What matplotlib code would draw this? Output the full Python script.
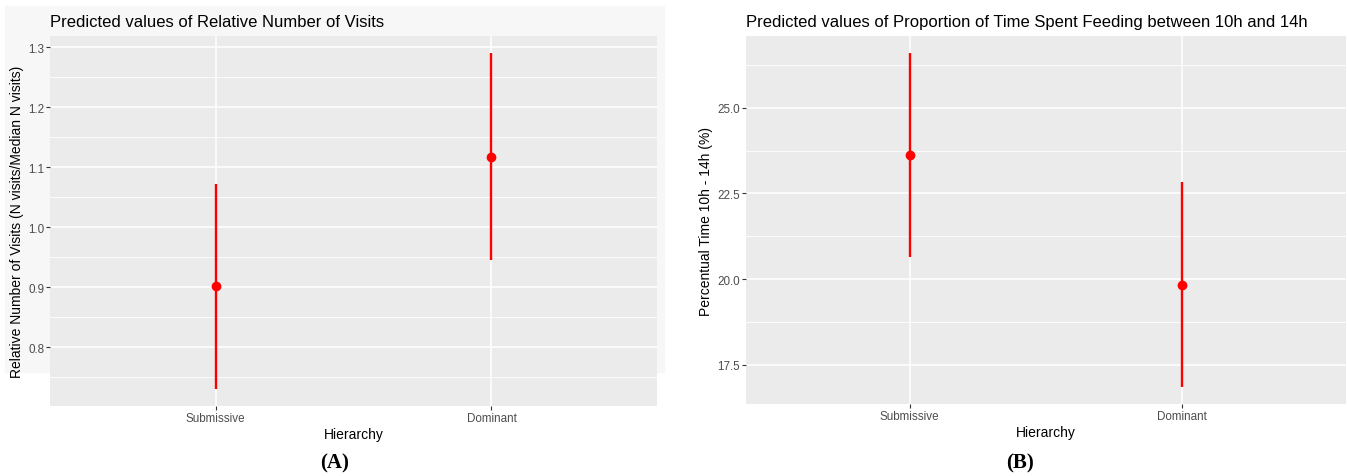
import matplotlib
matplotlib.use("Agg")
import matplotlib.pyplot as plt
from matplotlib.patches import Rectangle

plt.rcParams["font.family"] = ["Liberation Sans", "DejaVu Sans"]

# ---------------------------------------------------------------------------
# Data
# ---------------------------------------------------------------------------
categories = ["Submissive", "Dominant"]

visits_pred = [0.902, 1.118]
visits_lo = [0.730, 0.946]
visits_hi = [1.073, 1.291]
visits_ticks = [0.8, 0.9, 1.0, 1.1, 1.2, 1.3]
visits_minor = [0.75, 0.85, 0.95, 1.05, 1.15, 1.25]

feed_pred = [23.63, 19.84]
feed_lo = [20.63, 16.84]
feed_hi = [26.61, 22.83]
feed_ticks = [17.5, 20.0, 22.5, 25.0]
feed_minor = [18.75, 21.25, 23.75, 26.25]

W, H = 1347, 477
fig = plt.figure(figsize=(W / 100, H / 100), dpi=100)
fig.patch.set_facecolor("white")

def box(l, t, r, b):
    return [l / W, 1 - b / H, (r - l) / W, (b - t) / H]

# light plot background of panel A (pasted image)
bg = Rectangle((5 / W, 1 - 373 / H), 659 / W, 366 / H,
               transform=fig.transFigure, color="#F7F7F7", zorder=-5)
fig.patches.append(bg)

def panel(rect, pred, lo, hi, ticks, minor, fmt, title, ylabel):
    ax = fig.add_axes(rect)
    ax.set_facecolor("#EBEBEB")
    for s in ax.spines.values():
        s.set_visible(False)
    x = list(range(1, len(categories) + 1))
    ax.set_xlim(0.4, len(categories) + 0.6)
    span = max(hi) - min(lo)
    ax.set_ylim(min(lo) - 0.05 * span, max(hi) + 0.05 * span)
    for m in minor:
        ax.axhline(m, color="white", lw=0.6, zorder=1)
    for t in ticks:
        ax.axhline(t, color="white", lw=1.1, zorder=1)
    for xi in x:
        ax.axvline(xi, color="white", lw=1.1, zorder=1)
    ax.vlines(x, lo, hi, color="#FF0000", lw=1.7, zorder=3)
    ax.plot(x, pred, "o", color="#FF0000", ms=6, zorder=4)
    ax.set_xticks(x)
    ax.set_xticklabels(categories)
    ax.set_yticks(ticks)
    ax.set_yticklabels([fmt.format(t) for t in ticks])
    ax.tick_params(axis="both", length=2.7, width=0.8, color="#333333",
                   labelcolor="#4D4D4D", labelsize=8.4)
    ax.tick_params(axis="x", pad=1.5)
    ax.tick_params(axis="y", pad=1.5)
    ax.set_xlabel("Hierarchy", fontsize=10, color="black", labelpad=2)
    ax.set_ylabel(ylabel, fontsize=10, color="black", labelpad=3)
    ax.set_title(title, loc="left", fontsize=12, color="black", pad=7)
    return ax

axA = panel(box(50, 37, 657, 407), visits_pred, visits_lo, visits_hi,
            visits_ticks, visits_minor, "{:.1f}",
            "Predicted values of Relative Number of Visits",
            "Relative Number of Visits (N visits/Median N visits)")
axA.set_zorder(1)

axB = panel(box(746, 37, 1346, 405), feed_pred, feed_lo, feed_hi,
            feed_ticks, feed_minor, "{:.1f}",
            "Predicted values of Proportion of Time Spent Feeding between 10h and 14h",
            "Percentual Time 10h - 14h (%)")
axB.set_zorder(1)

for xc, lab in ((335, "(A)"), (1020, "(B)")):
    fig.text(xc / W, 1 - 463 / H, lab, ha="center", va="center",
             fontsize=15, fontweight="bold", family="Liberation Serif")

fig.savefig("out.png", dpi=100)
